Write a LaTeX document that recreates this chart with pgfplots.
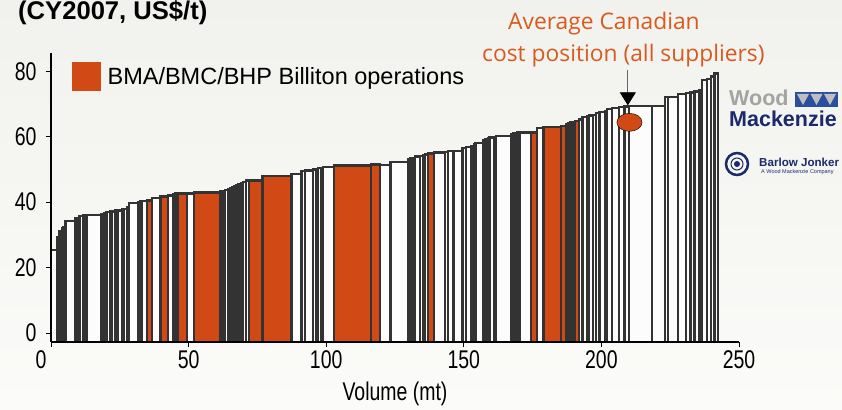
\documentclass[border=0pt]{standalone}
\usepackage{fontspec}
\setmainfont{Liberation Sans}
\newfontfamily\narrow[FakeStretch=0.76]{Liberation Sans}
\newfontfamily\annot{Open Sans}
\usepackage{pgfplots}
\usepackage{pgfplotstable}
\pgfplotsset{compat=1.18}
\usetikzlibrary{arrows.meta}
\definecolor{barorange}{HTML}{D14A15}
\definecolor{bardark}{HTML}{333333}
\definecolor{barwhite}{HTML}{FCFCFC}
\definecolor{annotorange}{HTML}{D95A1E}
\definecolor{bgtop}{HTML}{F1F1ED}
\definecolor{bgbot}{HTML}{FBFBF9}
\definecolor{wmnavy}{HTML}{1B2A6B}
\definecolor{wmgray}{HTML}{A3A3A3}
\definecolor{wmblue}{HTML}{2A4FA0}

% x0 x1 = cumulative volume (mt), h = cost (US$/t), o = 1 for BMA/BMC/BHP Billiton
\pgfplotstableread{
x0 x1 h o
0 2.4 25.4 0
2.4 3.1 29.3 0
3.1 3.9 31.0 0
3.9 4.6 32.0 0
4.6 5.3 32.3 0
5.3 8.8 34.3 0
8.8 9.6 35.0 0
9.6 10.4 35.2 0
10.4 11.6 35.8 0
11.6 12.3 36.0 0
12.3 12.9 36.1 0
12.9 18.4 36.1 0
18.4 19.2 36.4 0
19.2 20.2 36.6 0
20.2 21.4 37.0 0
21.4 22.0 37.1 0
22.0 23.2 37.2 0
23.2 24.1 37.4 0
24.1 25.7 37.5 0
25.7 26.3 37.9 0
26.3 27.7 38.0 0
27.7 28.4 38.6 0
28.4 31.7 39.7 0
31.7 32.4 40.0 0
32.4 32.9 40.2 0
32.9 34.8 40.3 0
34.8 36.6 40.5 1
36.6 39.8 41.2 0
39.8 42.6 41.7 1
42.6 44.4 42.0 0
44.4 45.2 42.4 0
45.2 46.0 42.6 0
46.0 49.4 42.6 1
49.4 51.9 42.6 0
51.9 61.5 42.9 1
61.5 62.3 43.2 0
62.3 63.2 43.5 0
63.2 64.4 43.7 0
64.4 65.2 44.0 0
65.2 66.0 44.2 0
66.0 66.7 44.6 0
66.7 67.4 44.9 0
67.4 68.2 45.2 0
68.2 69.0 45.5 0
69.0 69.8 45.7 0
69.8 70.8 46.2 0
70.8 71.9 46.6 0
71.9 76.9 46.6 1
76.9 87.4 48.0 1
87.4 91.0 48.7 0
91.0 92.2 49.6 0
92.2 95.2 49.7 0
95.2 96.5 50.0 0
96.5 97.1 50.2 0
97.1 98.0 50.4 0
98.0 98.9 50.5 0
98.9 102.8 50.7 0
102.8 116.3 51.2 1
116.3 119.5 51.5 1
119.5 123.4 51.4 0
123.4 129.7 52.2 0
129.7 130.5 53.0 0
130.5 131.3 53.3 0
131.3 132.2 53.5 0
132.2 134.0 53.9 0
134.0 135.2 54.2 0
135.2 135.9 54.4 0
135.9 137.0 54.6 0
137.0 139.2 54.9 1
139.2 143.1 55.2 0
143.1 144.3 55.4 0
144.3 146.2 55.6 0
146.2 149.5 55.7 0
149.5 150.9 56.5 0
150.9 152.8 56.8 0
152.8 153.6 57.2 0
153.6 154.3 57.6 0
154.3 157.2 58.0 0
157.2 157.9 59.0 0
157.9 158.7 59.4 0
158.7 159.4 59.6 0
159.4 161.2 59.8 0
161.2 161.8 60.0 0
161.8 167.3 60.2 0
167.3 168.0 60.8 0
168.0 168.8 61.0 0
168.8 169.5 61.2 0
169.5 170.3 61.3 0
170.3 174.5 61.3 0
174.5 176.6 61.3 1
176.6 179.0 62.6 0
179.0 185.4 62.9 1
185.4 187.3 63.2 1
187.3 188.0 63.8 0
188.0 188.8 64.1 0
188.8 189.6 64.3 0
189.6 190.3 64.5 0
190.3 191.8 64.9 1
191.8 193.1 65.3 0
193.1 194.7 66.0 0
194.7 195.4 66.2 0
195.4 196.9 66.5 0
196.9 198.0 66.7 0
198.0 199.3 67.2 0
199.3 201.2 67.6 0
201.2 202.0 67.8 0
202.0 203.9 68.4 0
203.9 206.4 68.7 0
206.4 208.4 69.0 0
208.4 210.0 69.2 0
210.0 218.3 69.4 0
218.3 223.0 69.4 0
223.0 224.2 72.1 0
224.2 227.8 72.1 0
227.8 230.8 73.0 0
230.8 232.3 73.3 0
232.3 233.8 73.5 0
233.8 235.7 73.8 0
235.7 236.6 74.3 0
236.6 238.4 77.4 0
238.4 239.9 77.6 0
239.9 241.1 78.4 0
241.1 242.3 79.3 0
}\bars
\def\base{-2.75}

\begin{document}
\begin{tikzpicture}
\useasboundingbox (0pt,0pt) rectangle (842pt,409pt);
\clip (0pt,0pt) rectangle (842pt,409pt);
\shade[top color=bgtop, bottom color=bgbot] (0pt,0pt) rectangle (842pt,409pt);
\begin{axis}[
  at={(51pt,67pt)}, anchor=south west, scale only axis,
  width=688pt, height=289pt,
  xmin=0, xmax=250, ymin=\base, ymax=85.6,
  axis lines*=left,
  axis line style={black, line width=1.1pt},
  axis on top,
  xtick={0,50,...,250}, ytick={0,20,...,80},
  xticklabels={{\makebox[0pt][r]{0\hspace{4.5pt}}},50,100,150,200,250},
  tick align=outside, major tick length=5pt,
  tick style={black, line width=0.9pt},
  /pgf/number format/assume math mode=true,
  ticklabel style={font=\narrow\fontsize{25.6}{26}\selectfont},
  yticklabel style={xshift=-6pt},
  xlabel={Volume (mt)},
  xlabel style={font=\narrow\fontsize{25.6}{26}\selectfont, yshift=-6pt},
  legend style={at={(0.0305,0.919)}, anchor=west, draw=none, fill=none,
    font=\fontsize{23.5}{24}\selectfont, inner sep=0pt, column sep=5pt},
  legend cell align=left,
]
\addlegendimage{legend image code/.code={\fill[barorange] (0pt,-14pt) rectangle (28pt,14pt);}}
\addlegendentry{BMA/BMC/BHP Billiton operations}

\pgfplotstablegetrowsof{\bars}
\pgfmathtruncatemacro{\nrows}{\pgfplotsretval-1}
% fills
\pgfplotsforeachungrouped \i in {0,...,\nrows}{%
  \pgfplotstablegetelem{\i}{x0}\of\bars \let\xa\pgfplotsretval
  \pgfplotstablegetelem{\i}{x1}\of\bars \let\xb\pgfplotsretval
  \pgfplotstablegetelem{\i}{h}\of\bars \let\hh\pgfplotsretval
  \pgfplotstablegetelem{\i}{o}\of\bars \let\oo\pgfplotsretval
  \ifnum\oo=1 \def\fc{barorange}\else\def\fc{barwhite}\fi
  \edef\tmp{\noexpand\addplot[fill=\fc, draw=none, forget plot] coordinates {(\xa,\base) (\xa,\hh) (\xb,\hh) (\xb,\base)} -- cycle;}%
  \tmp
}
% outlines
\pgfplotsforeachungrouped \i in {0,...,\nrows}{%
  \pgfplotstablegetelem{\i}{x0}\of\bars \let\xa\pgfplotsretval
  \pgfplotstablegetelem{\i}{x1}\of\bars \let\xb\pgfplotsretval
  \pgfplotstablegetelem{\i}{h}\of\bars \let\hh\pgfplotsretval
  \edef\tmp{\noexpand\addplot[draw=bardark, line width=2.4pt, line join=miter, forget plot] coordinates {(\xa,\base) (\xa,\hh) (\xb,\hh) (\xb,\base)};}%
  \tmp
}
% average Canadian cost position
\addplot[only marks, mark=*, mark size=9pt, mark options={xscale=1.4, fill=barorange, draw=none}, forget plot] coordinates {(210.2,64.4)};
\draw[black!60, line width=0.8pt, -{Triangle[length=13pt,width=16pt,fill=black,color=black]}] (axis cs:209.6,80.4) -- (axis cs:209.6,69.6);
\end{axis}

% title (partly cut)
\node[anchor=base west, font=\bfseries\fontsize{25.6}{26}\selectfont, inner sep=0pt] at (18pt,389pt) {(CY2007, US\$/t)};
% annotation text
\node[anchor=base west, text=annotorange, font=\annot\fontsize{22.8}{24}\selectfont, inner sep=0pt] at (508pt,379.7pt) {Average Canadian};
\node[anchor=base west, text=annotorange, font=\annot\fontsize{22.8}{24}\selectfont, inner sep=0pt] at (482pt,347.3pt) {cost position (all suppliers)};

% Wood Mackenzie logo
\node[anchor=base west, font=\bfseries\fontsize{21.5}{22}\selectfont, text=wmgray, inner sep=0pt] at (729pt,303pt) {Wood};
\fill[wmblue] (795pt,302pt) rectangle (838pt,317pt);
\fill[wmgray!70] (797pt,315pt) -- (809pt,315pt) -- (803pt,304pt) -- cycle;
\fill[wmgray!70] (810.5pt,315pt) -- (822.5pt,315pt) -- (816.5pt,304pt) -- cycle;
\fill[wmgray!70] (824pt,315pt) -- (836pt,315pt) -- (830pt,304pt) -- cycle;
\node[anchor=base west, font=\bfseries\fontsize{21.5}{22}\selectfont, text=wmnavy, inner sep=0pt] at (729pt,282.5pt) {Mackenzie};

% Barlow Jonker logo
\draw[wmnavy, line width=2.5pt] (737pt,245pt) circle (11pt);
\draw[wmnavy, line width=1pt] (737pt,245pt) circle (6pt);
\fill[wmnavy] (737pt,245pt) circle (3pt);
\node[anchor=base west, font=\bfseries\fontsize{11.6}{12}\selectfont, text=wmnavy, inner sep=0pt] at (759pt,242.3pt) {Barlow Jonker};
\node[anchor=base west, font=\fontsize{5.5}{6}\selectfont, text=wmnavy, inner sep=0pt] at (761pt,235pt) {A Wood Mackenzie Company};
\end{tikzpicture}
\end{document}
